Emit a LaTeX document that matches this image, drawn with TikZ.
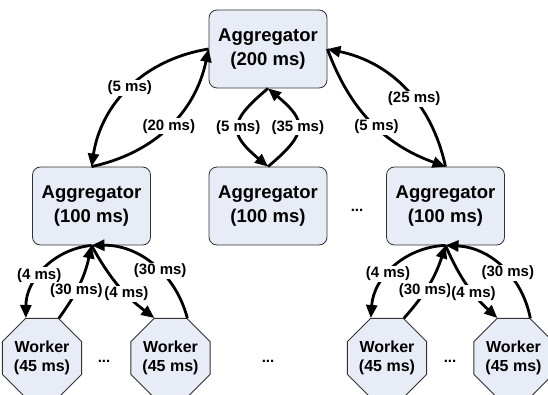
\documentclass[tikz,border=0pt]{standalone}
\usepackage{fontspec}
\setmainfont{Liberation Sans}
\usetikzlibrary{shapes.geometric,arrows.meta}
\definecolor{boxfill}{RGB}{232,236,246}
\definecolor{boxline}{RGB}{50,50,50}
\begin{document}
\begin{tikzpicture}[x=1pt,y=1pt,
  agg/.style={rectangle, rounded corners=8pt, draw=boxline, line width=0.8pt, fill=boxfill,
    minimum width=118pt, minimum height=78pt, inner sep=0pt, align=center,
    font=\fontsize{18.5}{24}\selectfont\bfseries},
  worker/.style={regular polygon, regular polygon sides=8, minimum size=75.8pt, inner sep=0pt,
    draw=boxline, line width=0.8pt, fill=boxfill, align=center,
    font=\fontsize{16}{19}\selectfont\bfseries},
  lbl/.style={fill=white, inner sep=1pt, font=\fontsize{15}{18}\selectfont\bfseries},
  dots/.style={font=\fontsize{15}{18}\selectfont\bfseries, inner sep=0pt},
  arr/.style={line width=2.8pt, -{Triangle[length=13pt,width=11pt]}}
]
\useasboundingbox (0,0) rectangle (548,394);
\node[agg] (T) at (268,345) {Aggregator\\(200 ms)};
\node[agg] (L) at (91.5,188) {Aggregator\\(100 ms)};
\node[agg] (C) at (268,188) {Aggregator\\(100 ms)};
\node[agg] (R) at (445.5,188) {Aggregator\\(100 ms)};
\node[worker] (W1) at (42,36) {Worker\\(45 ms)};
\node[worker] (W2) at (170.5,36) {Worker\\(45 ms)};
\node[worker] (W3) at (387,36) {Worker\\(45 ms)};
\node[worker] (W4) at (513.5,36) {Worker\\(45 ms)};
\node[dots] (d1) at (104,33) {...};
\node[dots] (d2) at (268,33) {...};
\node[dots] (d3) at (450,33) {...};
\node[dots] (d4) at (357,184) {...};
% top level
\draw[arr] (T.west) to[bend right=36] node[lbl]{(5 ms)} (L.north);
\draw[arr] (L.north) to[bend right=33] node[lbl]{(20 ms)} (T.west);
\draw[arr] (T.south) to[bend right=50, looseness=1.7] node[lbl]{(5 ms)} (C.north);
\draw[arr] (C.north) to[bend right=50, looseness=1.7] node[lbl]{(35 ms)} (T.south);
\draw[arr] (T.east) to[bend right=25] node[lbl, pos=0.54]{(5 ms)} (R.north);
\draw[arr] (R.north) to[bend right=33] node[lbl, pos=0.42]{(25 ms)} (T.east);
% lower left
\draw[arr] (L.south) to[bend right=42] node[lbl, pos=0.58]{(4 ms)} (W1.112.5);
\draw[arr] (W1.67.5) to[bend right=12] node[lbl, pos=0.4]{(30 ms)} (L.south);
\draw[arr] (L.south) to[bend right=12] node[lbl, pos=0.63]{(4 ms)} (W2.112.5);
\draw[arr] (W2.67.5) to[bend right=38] node[lbl, pos=0.42]{(30 ms)} (L.south);
% lower right
\draw[arr] (R.south) to[bend right=42] node[lbl, pos=0.58]{(4 ms)} (W3.112.5);
\draw[arr] (W3.67.5) to[bend right=12] node[lbl, pos=0.4]{(30 ms)} (R.south);
\draw[arr] (R.south) to[bend right=12] node[lbl, pos=0.63]{(4 ms)} (W4.112.5);
\draw[arr] (W4.67.5) to[bend right=38] node[lbl, pos=0.42]{(30 ms)} (R.south);
\end{tikzpicture}
\end{document}
